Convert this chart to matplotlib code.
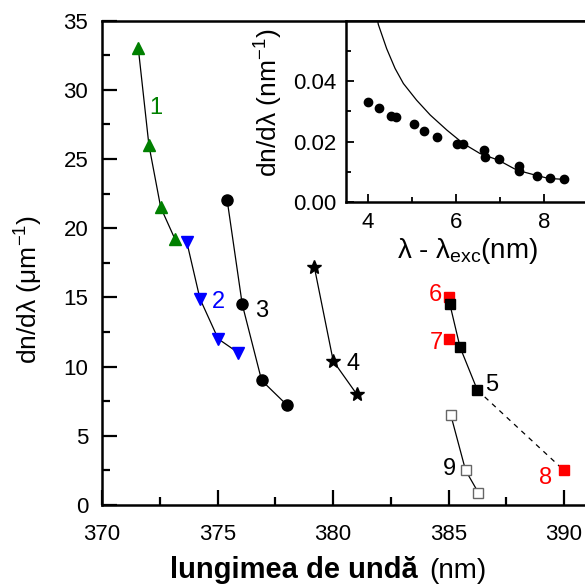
import matplotlib
matplotlib.use("Agg")
import matplotlib.pyplot as plt

plt.rcParams["font.family"] = ["Liberation Sans", "DejaVu Sans"]
plt.rcParams["mathtext.fontset"] = "custom"
plt.rcParams["mathtext.rm"] = "Liberation Sans"
plt.rcParams["mathtext.it"] = "Liberation Sans:italic"

# series (wavelength nm, dn/dlambda um^-1)
s1_x = [371.57, 372.03, 372.54, 373.16]
s1_y = [33.0, 26.0, 21.5, 19.2]
s2_x = [373.67, 374.24, 375.03, 375.9]
s2_y = [19.0, 14.9, 12.0, 11.0]
s3_x = [375.42, 376.07, 376.91, 378.02]
s3_y = [22.0, 14.5, 9.0, 7.2]
s4_x = [379.19, 380.01, 381.03]
s4_y = [17.2, 10.4, 8.0]
s5_x = [385.06, 385.5, 386.25]
s5_y = [14.5, 11.4, 8.3]
red_x = [385.03, 385.02, 390.0]   # points 6, 7, 8
red_y = [15.0, 12.0, 2.5]
s9_x = [385.1, 385.74, 386.29]
s9_y = [6.5, 2.5, 0.9]

# curve labels
lab_text = ["1", "2", "3", "4", "5", "6", "7", "8", "9"]
lab_x = [372.34, 375.03, 376.9, 380.88, 386.87, 384.45, 384.49, 389.22, 385.02]
lab_y = [28.7, 14.65, 14.0, 10.2, 8.7, 15.2, 11.7, 1.97, 2.63]
lab_col = ["#008000", "#0000ff", "black", "black", "black", "red", "red", "red", "black"]

# inset: measured points and the drawn fit curve
in_x = [4.01, 4.26, 4.52, 4.65, 5.04, 5.28, 5.58, 6.02, 6.17, 6.63, 6.67,
        6.98, 7.44, 7.44, 7.84, 8.14, 8.45]
in_y = [0.0332, 0.0310, 0.0284, 0.0282, 0.0257, 0.0235, 0.0214, 0.0191, 0.0192,
        0.0172, 0.0148, 0.0143, 0.0121, 0.0103, 0.0088, 0.0081, 0.0077]
fit_x = [4.20, 4.24, 4.43, 4.62, 4.81, 5.11, 5.42, 5.80, 6.17, 6.55, 6.97,
         7.39, 7.80, 8.10, 8.41, 8.50]
fit_y = [0.0620, 0.0587, 0.0507, 0.0442, 0.0392, 0.0337, 0.0288, 0.0238, 0.0194,
         0.0161, 0.0139, 0.0106, 0.0090, 0.0079, 0.0076, 0.0071]

fig = plt.figure(figsize=(5.85, 5.86), dpi=100)
ax = fig.add_axes([0.1744, 0.1382, 0.8513, 0.8268])

lw = 0.9
ax.plot(s1_x, s1_y, "-", color="black", lw=lw, zorder=2)
ax.plot(s1_x, s1_y, "^", color="#008000", ms=9, ls="none", zorder=3)
ax.plot(s2_x, s2_y, "-", color="black", lw=lw, zorder=2)
ax.plot(s2_x, s2_y, "v", color="#0000ff", ms=9, ls="none", zorder=3)
ax.plot(s3_x, s3_y, "-o", color="black", lw=lw, ms=8)
ax.plot(s4_x, s4_y, "-*", color="black", lw=lw, ms=10)
ax.plot([s5_x[-1], red_x[-1]], [s5_y[-1], red_y[-1]], "--", color="black", lw=lw,
        dashes=(4, 4))
ax.plot(red_x, red_y, "s", color="red", ms=6.5, ls="none")
ax.plot(s5_x, s5_y, "-s", color="black", lw=lw, ms=6.5)
ax.plot(s9_x, s9_y, "-", color="black", lw=lw)
ax.plot(s9_x, s9_y, "s", mfc="white", mec="#666666", mew=1, ms=7, ls="none")

for t, x, y, c in zip(lab_text, lab_x, lab_y, lab_col):
    ax.text(x, y, t, color=c, fontsize=17, ha="center", va="center")

ax.set_xlim(370, 391.56)
ax.set_ylim(0, 35)
ax.set_xticks([370, 375, 380, 385, 390])
ax.set_xticks([372.5, 377.5, 382.5, 387.5], minor=True)
ax.set_yticks(range(0, 36, 5))
ax.set_yticks([2.5 + 5 * i for i in range(7)], minor=True)
ax.tick_params(which="both", direction="in", width=1.6, labelsize=16)
ax.tick_params(which="major", length=11)
ax.tick_params(which="minor", length=6)
ax.tick_params(axis="x", which="major", pad=14)
ax.tick_params(axis="y", which="major", pad=10)
ax.tick_params(top=False, right=False)
for sp in ax.spines.values():
    sp.set_linewidth(1.8)

ax.set_ylabel(r"dn/dλ (μm$^{\mathrm{-1}}$)", fontsize=19)
ax.yaxis.set_label_coords(-0.114, 0.444)
fig.text(0.7145, 0.014, "lungimea de undă", fontsize=21, fontweight="bold",
         ha="right", va="baseline")
fig.text(0.733, 0.014, "(nm)", fontsize=20, ha="left", va="baseline")

# inset
ins = fig.add_axes([0.591, 0.6548, 0.4176, 0.3102])
ins.plot(fit_x, fit_y, "-", color="black", lw=0.9)
ins.plot(in_x, in_y, "o", color="black", ms=6)
ins.set_xlim(3.5, 9.05)
ins.set_ylim(0, 0.06)
ins.set_xticks([4, 6, 8])
ins.set_xticks([5, 7], minor=True)
ins.set_yticks([0.0, 0.02, 0.04])
ins.set_yticks([0.01, 0.03, 0.05], minor=True)
ins.set_yticklabels(["0.00", "0.02", "0.04"])
ins.tick_params(which="both", direction="in", width=1.3, labelsize=16)
ins.tick_params(which="major", length=5.5, pad=7)
ins.tick_params(which="minor", length=3.5)
ins.tick_params(top=False, right=False)
for sp in ins.spines.values():
    sp.set_linewidth(1.8)
ins.set_ylabel(r"dn/dλ (nm$^{\mathrm{-1}}$)", fontsize=19)
ins.yaxis.set_label_coords(-0.248, 0.546)
ins.set_xlabel(r"λ - λ$_{\mathrm{exc}}$(nm)", fontsize=20, labelpad=2)

fig.savefig("out.png", dpi=100)
